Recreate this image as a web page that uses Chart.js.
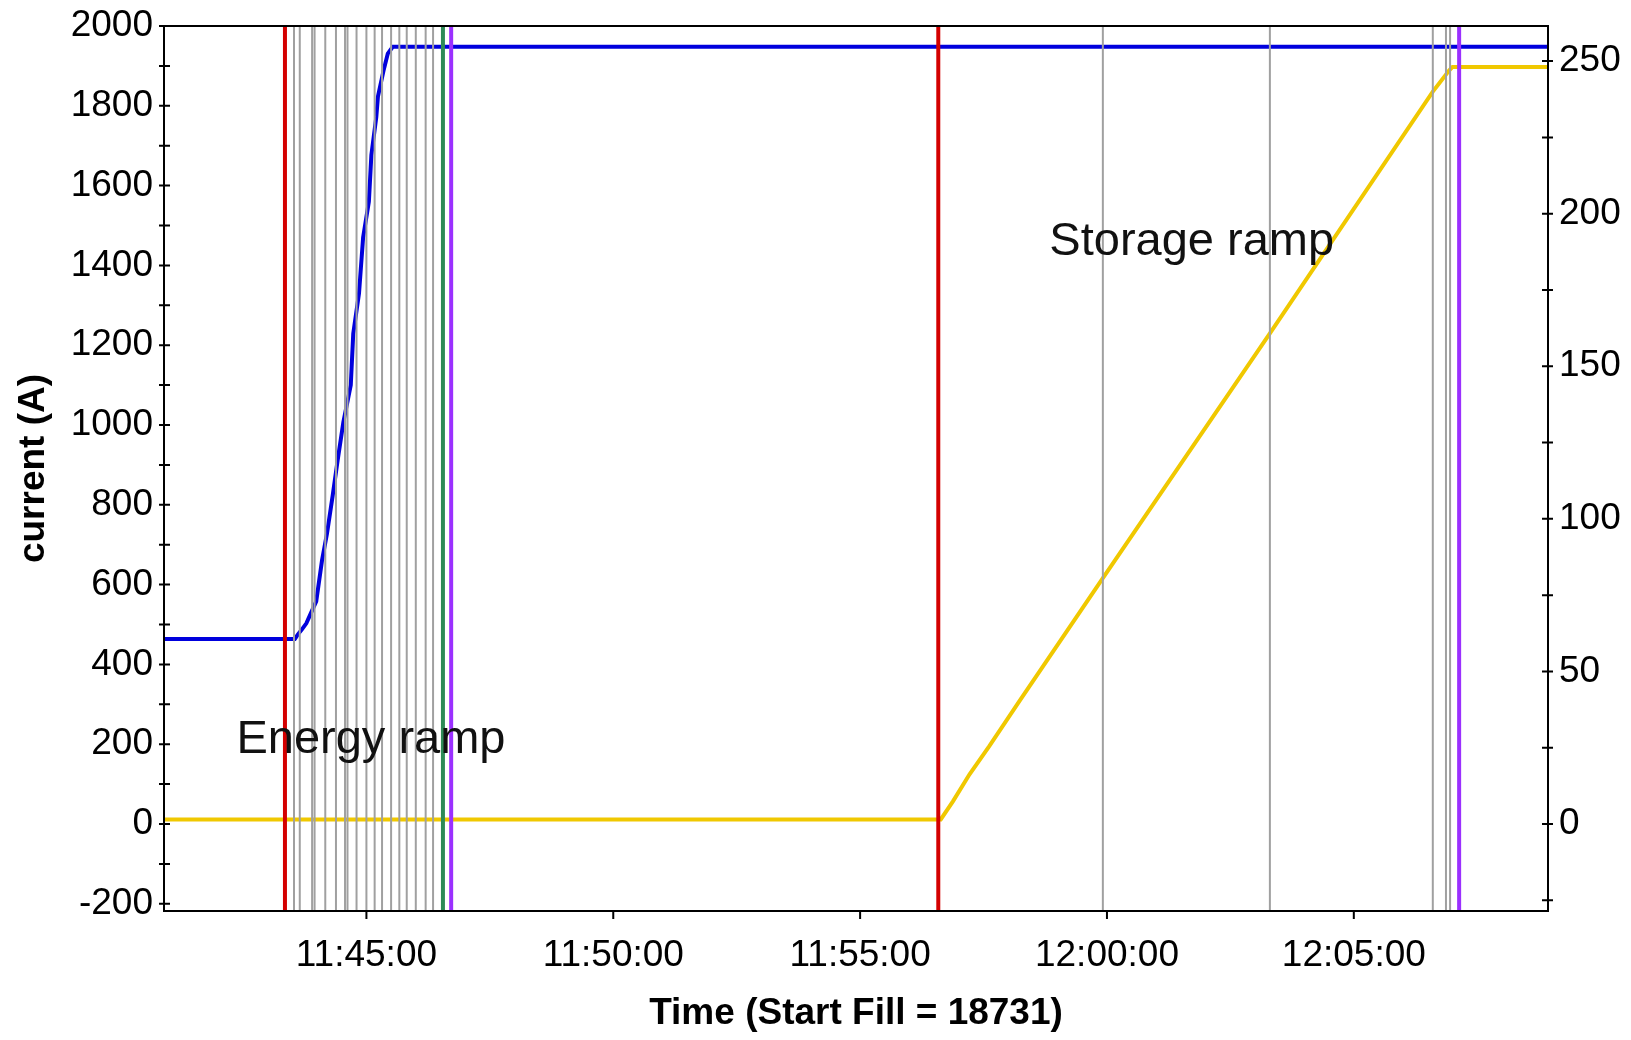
<!DOCTYPE html>
<html>
<head>
<meta charset="utf-8">
<script src="https://cdn.jsdelivr.net/npm/chart.js@4"></script>
<style>
  body { margin: 0; background: #fff; }
</style>
</head>
<body>
<canvas id="rampChart" width="1631" height="1040"></canvas>
<script>
// ---- data ----
// magnet current (A), left axis
const currentTimes = ["11:40:50", "11:43:33", "11:43:37", "11:43:41", "11:43:47", "11:43:52", "11:43:59",
    "11:44:06", "11:44:12", "11:44:19", "11:44:25", "11:44:32", "11:44:41", "11:44:44", "11:44:51",
    "11:44:56", "11:45:03", "11:45:06", "11:45:12", "11:45:14", "11:45:21", "11:45:26", "11:45:32", "12:09:10"];
const currentValues = [464, 464, 476, 486, 503, 526, 558,
    660, 727, 823, 911, 1007, 1100, 1229, 1330,
    1470, 1560, 1676, 1772, 1823, 1890, 1931, 1948, 1948];

// second series, right axis
const rightTimes = ["11:40:50", "11:56:38", "11:56:53", "11:57:13", "11:57:37", "11:58:14", "11:59:55",
    "12:03:18", "12:06:36", "12:06:56", "12:07:00", "12:09:10"];
const rightValues = [1.5, 1.5, 7.5, 16.3, 25.5, 40.4, 80.6, 160.8, 240, 247, 248.1, 248.1];

// vertical event markers
const redMarkers = ["11:43:21", "11:56:35"];
const greyMarkers = ["11:43:32", "11:43:39", "11:43:54", "11:43:57", "11:44:10", "11:44:23", "11:44:34",
    "11:44:37", "11:44:48", "11:45:00", "11:45:10", "11:45:19", "11:45:30", "11:45:40", "11:45:49",
    "11:46:00", "11:46:12", "11:46:21", "11:59:55", "12:03:18", "12:06:36", "12:06:52", "12:06:57"];
const greenMarkers = ["11:46:33"];
const purpleMarkers = ["11:46:43", "12:07:08"];

// text labels in the plot (time, left-axis value)
const noteTexts = ["Energy ramp", "Storage ramp"];
const noteTimes = ["11:42:22", "11:58:50"];
const noteValues = [179, 1425];

// axes
const xTickLabels = ["11:45:00", "11:50:00", "11:55:00", "12:00:00", "12:05:00"];
const xRange = ["11:40:54", "12:08:56"];
const leftTickLabels = [-200, 0, 200, 400, 600, 800, 1000, 1200, 1400, 1600, 1800, 2000];
const leftMinorTicks = [-100, 100, 300, 500, 700, 900, 1100, 1300, 1500, 1700, 1900];
const leftRange = [-218, 2000];
const rightTickLabels = [0, 50, 100, 150, 200, 250];
const rightMinorTicks = [-25, 25, 75, 125, 175, 225];
const rightRange = [-28.5, 261.5];

function toSec(s) {
    const p = s.split(":").map(Number);
    return p[0] * 3600 + p[1] * 60 + p[2];
}
function pad(n) { return String(n).padStart(2, "0"); }
function fmtTime(v) {
    const h = Math.floor(v / 3600), m = Math.floor((v % 3600) / 60), s = Math.round(v % 60);
    return h + ":" + pad(m) + ":" + pad(s);
}

const tickFont = { family: "'Liberation Sans', Arial, sans-serif", size: 37 };
const titleFont = { family: "'Liberation Sans', Arial, sans-serif", size: 37, weight: "bold" };

// ---- frame, tick marks, markers, notes ----
const decor = {
    id: "decor",
    afterDatasetsDraw(chart) {
        const ctx = chart.ctx, a = chart.chartArea, x = chart.scales.x;
        const groups = [
            [greyMarkers, "#a0a0a0", 2],
            [redMarkers, "#d40000", 4],
            [greenMarkers, "#2e8b57", 4],
            [purpleMarkers, "#9b30ff", 4]
        ];
        ctx.save();
        groups.forEach(([list, color, w]) => {
            ctx.strokeStyle = color;
            ctx.lineWidth = w;
            list.forEach(t => {
                const px = x.getPixelForValue(toSec(t));
                ctx.beginPath();
                ctx.moveTo(px, a.top);
                ctx.lineTo(px, a.bottom);
                ctx.stroke();
            });
        });
        ctx.restore();
    },
    afterDraw(chart) {
        const ctx = chart.ctx, a = chart.chartArea;
        const { x, y, y1 } = chart.scales;
        ctx.save();
        ctx.strokeStyle = "#000";
        ctx.lineWidth = 2;
        ctx.strokeRect(a.left, a.top, a.right - a.left, a.bottom - a.top);
        ctx.beginPath();
        y.ticks.forEach(t => {
            const py = y.getPixelForValue(t.value);
            ctx.moveTo(a.left - 5, py); ctx.lineTo(a.left + 6, py);
        });
        y1.ticks.forEach(t => {
            const py = y1.getPixelForValue(t.value);
            ctx.moveTo(a.right - 6, py); ctx.lineTo(a.right + 5, py);
        });
        x.ticks.forEach(t => {
            const px = x.getPixelForValue(t.value);
            ctx.moveTo(px, a.bottom); ctx.lineTo(px, a.bottom + 8);
        });
        ctx.stroke();

        ctx.fillStyle = "#111";
        ctx.font = "47px 'Liberation Sans', Arial, sans-serif";
        ctx.textAlign = "left";
        ctx.textBaseline = "alphabetic";
        noteTexts.forEach((txt, i) => {
            ctx.fillText(txt, x.getPixelForValue(toSec(noteTimes[i])), y.getPixelForValue(noteValues[i]));
        });
        ctx.restore();
    }
};

function fitY(w) {
    return s => { s.width = w; s.paddingTop = 0; s.paddingBottom = 0; };
}

new Chart(document.getElementById("rampChart"), {
    type: "line",
    data: {
        datasets: [
            {
                data: currentTimes.map((t, i) => ({ x: toSec(t), y: currentValues[i] })),
                yAxisID: "y",
                borderColor: "#0000dd",
                borderWidth: 4,
                pointRadius: 0,
                tension: 0
            },
            {
                data: rightTimes.map((t, i) => ({ x: toSec(t), y: rightValues[i] })),
                yAxisID: "y1",
                borderColor: "#f0c800",
                borderWidth: 4,
                pointRadius: 0,
                tension: 0
            }
        ]
    },
    options: {
        responsive: false,
        animation: false,
        layout: { padding: { top: 26, left: 0, right: 0, bottom: 0 } },
        plugins: { legend: { display: false }, tooltip: { enabled: false } },
        scales: {
            x: {
                type: "linear",
                min: toSec(xRange[0]),
                max: toSec(xRange[1]),
                afterBuildTicks: s => { s.ticks = xTickLabels.map(t => ({ value: toSec(t) })); },
                afterFit: s => { s.height = 129; s.paddingLeft = 0; s.paddingRight = 0; },
                grid: { display: false, drawTicks: false },
                border: { display: false },
                ticks: {
                    autoSkip: false, maxRotation: 0, padding: 23,
                    color: "#000", font: tickFont,
                    callback: v => fmtTime(v)
                },
                title: {
                    display: true, text: "Time (Start Fill = 18731)",
                    color: "#000", font: titleFont, padding: { top: 0, bottom: 4 }
                }
            },
            y: {
                position: "left",
                min: leftRange[0],
                max: leftRange[1],
                afterBuildTicks: s => {
                    s.ticks = leftTickLabels.concat(leftMinorTicks).sort((a, b) => a - b).map(v => ({ value: v }));
                },
                afterFit: fitY(164),
                grid: { display: false, drawTicks: false },
                border: { display: false },
                ticks: {
                    autoSkip: false, padding: 11, color: "#000", font: tickFont,
                    callback: v => leftTickLabels.includes(v) ? String(v) : ""
                },
                title: {
                    display: true, text: "current (A)",
                    color: "#000", font: titleFont, padding: { top: 12, bottom: 0 }
                }
            },
            y1: {
                position: "right",
                min: rightRange[0],
                max: rightRange[1],
                afterBuildTicks: s => {
                    s.ticks = rightTickLabels.concat(rightMinorTicks).sort((a, b) => a - b).map(v => ({ value: v }));
                },
                afterFit: fitY(83),
                grid: { display: false, drawTicks: false },
                border: { display: false },
                ticks: {
                    autoSkip: false, padding: 11, color: "#000", font: tickFont,
                    callback: v => rightTickLabels.includes(v) ? String(v) : ""
                }
            }
        }
    },
    plugins: [decor]
});
</script>
</body>
</html>
